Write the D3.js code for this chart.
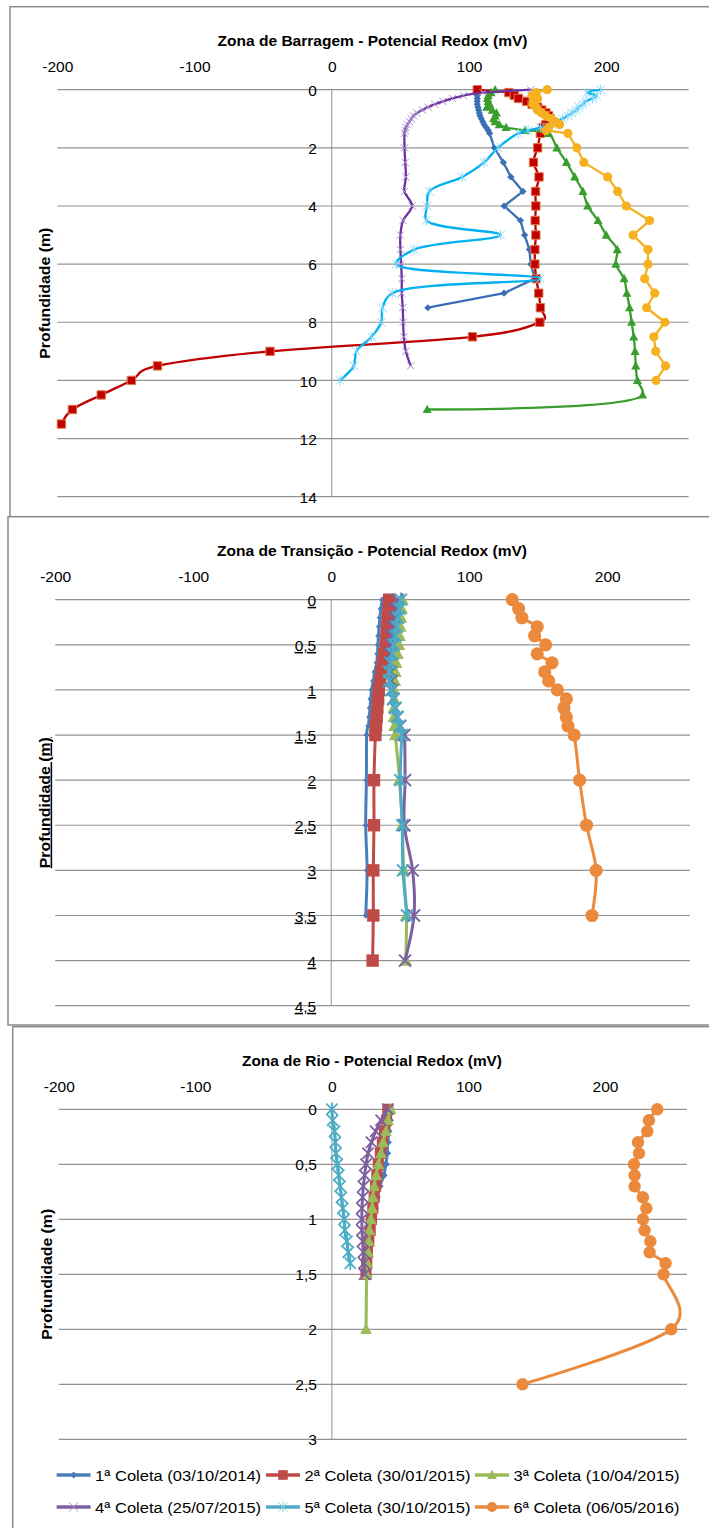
<!DOCTYPE html>
<html><head><meta charset="utf-8">
<script src="https://cdn.jsdelivr.net/npm/d3@7"></script>
<style>
html,body{margin:0;padding:0;background:#fff;}
svg{display:block;}
text{font-family:"Liberation Sans",Arial,sans-serif;fill:#000;}
</style></head><body>
<svg id="chart" width="709" height="1528"></svg>
<script>
// ---- data: [depth (m), redox potential (mV)] ----
const seriesNames = ["1ª Coleta (03/10/2014)","2ª Coleta (30/01/2015)","3ª Coleta (10/04/2015)",
                     "4ª Coleta (25/07/2015)","5ª Coleta (30/10/2015)","6ª Coleta (06/05/2016)"];
const redoxTicks = [-200,-100,0,100,200];
const barragemDepthTicks = [0,2,4,6,8,10,12,14];
const transicaoDepthTicks = [0,0.5,1,1.5,2,2.5,3,3.5,4,4.5];
const rioDepthTicks = [0,0.5,1,1.5,2,2.5,3];

// Zona de Barragem
const barragem1 = [[0,106],[0.1,106],[0.2,106],[0.3,106],[0.4,106],[0.5,106],[0.6,106.5],[0.7,107],[0.8,107.5],[0.9,108],[1.0,109],[1.1,110],[1.2,111],[1.3,112.5],[1.4,114],[1.5,115],[2,118.5],[2.5,125],[3,130.5],[3.5,139.3],[4,125.5],[4.5,137.5],[5,140.5],[5.5,144],[6,145],[6.5,148],[7,125.5],[7.5,70]];
const barragem2 = [[0,106],[0.1,129],[0.2,133],[0.3,136],[0.4,142],[0.5,146],[0.6,150],[0.7,153],[0.8,156],[0.9,158],[1.0,159],[1.1,158],[1.2,156],[1.3,154],[1.5,152],[2,150],[2.5,147],[3,151],[3.5,148.5],[4,148.7],[4.5,148.2],[5,148.7],[5.5,148],[6,148],[6.5,149],[7,150.8],[7.5,152],[8,151.6],[8.5,102.5],[9,-45],[9.5,-127],[10,-146],[10.5,-168],[11,-189],[11.5,-197]];
const barragem3 = [[0,119],[0.1,116],[0.2,114],[0.3,113.5],[0.4,114],[0.5,115],[0.6,113],[0.7,117],[0.8,120],[0.9,119],[1.0,118],[1.1,119],[1.2,122],[1.3,127],[1.4,141],[1.5,158],[2,164],[2.5,171],[3,177],[3.5,183],[4,186.5],[4.5,194],[5,200],[5.5,208],[6,207],[6.5,213],[7,215],[7.5,217],[8,218.5],[8.5,220],[9,221],[9.5,221.5],[10,222.7],[10.5,226.5],[11,69.5]];
const barragem4 = [[0,145],[0.1,110],[0.2,96],[0.3,88],[0.4,81],[0.5,75],[0.6,70],[0.7,66],[0.8,62],[0.9,59.5],[1.0,58],[1.1,56.5],[1.2,55],[1.3,54],[1.4,53.5],[1.5,53],[2,53],[2.5,53.5],[3,54],[3.5,53],[4,58.5],[4.5,52],[5,50],[5.5,50],[6,50.5],[6.5,51],[7,51],[7.5,51.7],[8,52],[8.5,52.5],[9,54],[9.5,57.5]];
const barragem5 = [[0,196],[0.1,186],[0.2,193],[0.3,190],[0.4,185],[0.5,183],[0.6,180],[0.7,178],[0.8,175],[0.9,172],[1.0,168],[1.1,164],[1.2,160],[1.3,152],[1.4,143],[1.5,136],[2,121],[2.5,111],[3,95],[3.5,71],[4,69.5],[4.5,69],[5,123],[5.5,60],[6,47],[6.5,152],[7,44],[7.5,37],[8,36],[8.5,29],[9,18],[9.5,16],[10,6]];
const barragem6 = [[0,157],[0.1,149],[0.2,146],[0.3,150],[0.4,147],[0.5,146.5],[0.6,149],[0.7,150],[0.8,153],[0.9,156],[1.0,160],[1.1,163],[1.2,166],[1.3,158],[1.4,156],[1.5,172],[2,178.5],[2.5,183.7],[3,201],[3.5,208.3],[4,214.6],[4.5,231.6],[5,219.5],[5.5,230.4],[6,230.4],[6.5,228],[7,235.3],[7.5,229.4],[8,242.7],[8.5,234.7],[9,236],[9.5,243.2],[10,236.3]];

// Zona de Transição
const transicao1 = [[0,37],[0.1,36],[0.2,35.3],[0.3,34.7],[0.4,34.2],[0.5,33.9],[0.6,33.5],[0.7,33],[0.8,31.5],[0.9,30.5],[1.0,29.3],[1.1,28.6],[1.2,28.1],[1.3,27.6],[1.4,26.9],[1.5,25.7],[2,25.5],[2.5,25],[3,26],[3.5,25]];
const transicao2 = [[0,42],[0.1,41.5],[0.2,41],[0.3,40.5],[0.4,40],[0.5,39.5],[0.6,38.5],[0.7,37.5],[0.8,36.5],[0.9,35.5],[1.0,34.5],[1.1,34],[1.2,33.5],[1.3,33],[1.4,32.5],[1.5,32],[2,31],[2.5,31],[3,30.5],[3.5,30.5],[4,30]];
const transicao3 = [[0,51.5],[0.1,51],[0.2,50.5],[0.3,50],[0.4,49.5],[0.5,49],[0.6,48],[0.7,47],[0.8,46.5],[0.9,46],[1.0,45.5],[1.1,45.5],[1.2,45.5],[1.3,45.5],[1.4,46],[1.5,46.5],[2,49.5],[2.5,51.5],[3,52.5],[3.5,54.5],[4,54]];
const transicao4 = [[0,48],[0.1,47],[0.2,46],[0.3,45],[0.4,44],[0.5,43.5],[0.6,43],[0.7,43],[0.8,43],[0.9,43.5],[1.0,44],[1.1,45],[1.2,46.5],[1.3,48],[1.4,50],[1.5,53],[2,53.5],[2.5,53],[3,59],[3.5,60],[4,53.5]];
const transicao5 = [[0,50.5],[0.1,49.5],[0.2,48.5],[0.3,47.5],[0.4,46.5],[0.5,45.5],[0.6,44.5],[0.7,43],[0.8,42],[0.9,42],[1.0,43.5],[1.1,45],[1.2,46.5],[1.3,48],[1.4,49.5],[1.5,51],[2,50],[2.5,51.5],[3,52],[3.5,55]];
const transicao6 = [[0,131.2],[0.1,135.8],[0.2,138.2],[0.3,149.3],[0.4,147.4],[0.5,155.4],[0.6,149.3],[0.7,160],[0.8,154.7],[0.9,157.6],[1.0,163.9],[1.1,170.4],[1.2,168.7],[1.3,170.4],[1.4,171.6],[1.5,176],[2,180],[2.5,185],[3,192],[3.5,189]];

// Zona de Rio
const rio1 = [[0,43],[0.1,42.5],[0.2,41.5],[0.3,41],[0.4,40.5],[0.5,39.5],[0.6,38],[0.7,35],[0.8,33],[0.9,31.5],[1.0,30],[1.1,29],[1.2,28],[1.3,27],[1.4,26.5],[1.5,26]];
const rio2 = [[0,41],[0.1,40],[0.2,38.5],[0.3,37],[0.4,35.5],[0.5,34],[0.6,33],[0.7,32],[0.8,31],[0.9,30],[1.0,29],[1.1,28],[1.2,27],[1.3,26],[1.4,25.5],[1.5,25]];
const rio3 = [[0,43],[0.1,41],[0.2,39.5],[0.3,37.5],[0.4,36],[0.5,34],[0.6,32.5],[0.7,31],[0.8,30],[0.9,29.5],[1.0,28.5],[1.1,27.5],[1.2,27],[1.3,26.5],[1.4,26],[1.5,25.5],[2,25]];
const rio4 = [[0,41],[0.1,36],[0.2,32],[0.3,29],[0.4,26.5],[0.5,25],[0.6,24],[0.7,23],[0.8,22.5],[0.9,22],[1.0,22],[1.1,22],[1.2,22.5],[1.3,23],[1.4,23.5],[1.5,24]];
const rio5 = [[0,0],[0.1,0.5],[0.2,2],[0.3,2.5],[0.4,3],[0.5,4],[0.6,5],[0.7,6],[0.8,7],[0.9,8],[1.0,9],[1.1,9.5],[1.2,11],[1.3,12],[1.4,13.5]];
const rio6 = [[0,238.3],[0.1,232.2],[0.2,231],[0.3,224.2],[0.4,224.9],[0.5,221.2],[0.6,221.7],[0.7,221.7],[0.8,227.8],[0.9,230.3],[1.0,227.8],[1.1,229],[1.2,233.2],[1.3,232.7],[1.4,244.4],[1.5,242.9],[2,248.5],[2.5,139.6]];

// ---- styles ----
const smooth = d3.curveCatmullRom.alpha(0);
const softSmooth = d3.curveCatmullRom.alpha(0.5);
const straight = d3.curveLinear;
const officeColors = ["#4A7EBB","#BE4B48","#9BBB59","#7D60A0","#4BACC6","#EB8A3C"];
const markerTypes = ["diamond","square","triangle","x","star","circle"];

const barragemStyle = [
  {color:"#3A6FB5", r:3.6, curve:straight},
  {color:"#C00000", r:4.2, curve:smooth, outline:"#E07A4A"},
  {color:"#3A9E2E", r:4.8, curve:softSmooth},
  {color:"#7030A0", r:3.6, curve:smooth, mark:"#A68BCB", mw:1},
  {color:"#00B0F0", r:4.2, curve:softSmooth, mark:"#86D6F5", mw:1},
  {color:"#F5B120", r:4.6, curve:straight}
];
const transicaoStyle = [
  {color:officeColors[0], r:3.2, curve:smooth},
  {color:officeColors[1], r:6.2, curve:smooth},
  {color:officeColors[2], r:6.8, curve:smooth},
  {color:officeColors[3], r:6, curve:smooth, mw:2},
  {color:officeColors[4], r:6, curve:smooth, mw:2},
  {color:officeColors[5], r:6.6, curve:smooth}
];
const rioStyle = [
  {color:officeColors[0], r:4, curve:smooth},
  {color:officeColors[1], r:5.6, curve:smooth},
  {color:officeColors[2], r:6.2, curve:smooth},
  {color:officeColors[3], r:5.6, curve:smooth, mw:1.8},
  {color:officeColors[4], r:5.6, curve:smooth, mw:1.8},
  {color:officeColors[5], r:6.2, curve:smooth}
];

const ptLocale = d3.formatLocale({decimal:",", thousands:".", grouping:[3], currency:["R$",""], minus:"-"});
const fmtDepth = ptLocale.format("~g");
const fmtRedox = ptLocale.format("d");

function markerPath(type, r){
  switch(type){
    case "diamond": return `M0,${-r}L${r},0L0,${r}L${-r},0Z`;
    case "square": return `M${-r},${-r}h${2*r}v${2*r}h${-2*r}Z`;
    case "triangle": return `M0,${-r}L${r*0.95},${r*0.75}L${-r*0.95},${r*0.75}Z`;
    case "x": return `M${-r},${-r}L${r},${r}M${-r},${r}L${r},${-r}`;
    case "star": return `M${-r},${-r}L${r},${r}M${-r},${r}L${r},${-r}M0,${-r*1.2}L0,${r*1.2}`;
    case "circle": return d3.symbol(d3.symbolCircle, Math.PI*r*r)();
  }
}
function drawMarker(sel, type, st){
  const open = (type==="x" || type==="star");
  sel.append("path").attr("d", markerPath(type, st.r))
    .attr("fill", open ? "none" : st.color)
    .attr("stroke", open ? (st.mark || st.color) : (st.outline || "none"))
    .attr("stroke-width", open ? (st.mw || 1) : (st.outline ? 1 : 0));
}

const svg = d3.select("#chart");

function drawPanel(p){
  const g = svg.append("g");
  g.append("rect").attr("x", p.frame[0]).attr("y", p.frame[1])
    .attr("width", p.frame[2]).attr("height", p.frame[3])
    .attr("fill", "#fff").attr("stroke", "#8A8A8A").attr("stroke-width", 1.5);

  const x = d3.scaleLinear().domain([-200, 260]).range([p.left, p.right]);
  const y = d3.scaleLinear().domain(p.depthDomain).range([p.top, p.bottom]);

  // gridlines
  g.append("g").selectAll("line").data(p.depthTicks).join("line")
    .attr("x1", p.left).attr("x2", p.right)
    .attr("y1", d => y(d)).attr("y2", d => y(d))
    .attr("stroke", "#939393").attr("stroke-width", 1.2);
  // vertical axis at 0 mV
  g.append("line").attr("x1", x(0)).attr("x2", x(0)).attr("y1", p.top).attr("y2", p.bottom)
    .attr("stroke", "#939393").attr("stroke-width", 1);

  // redox axis labels
  const ax = g.append("g").attr("transform", `translate(0,${p.xLabelY})`)
    .call(d3.axisTop(x).tickValues(redoxTicks).tickFormat(fmtRedox).tickSize(0).tickPadding(0));
  ax.select(".domain").remove();
  ax.selectAll("text").attr("y", 0).attr("dy", "0.36em")
    .attr("font-family", "Liberation Sans, Arial, sans-serif").attr("font-size", 15.5).attr("fill", "#000");

  // depth axis labels
  const ay = g.append("g").attr("transform", `translate(${x(0)},0)`)
    .call(d3.axisLeft(y).tickValues(p.depthTicks).tickFormat(fmtDepth).tickSize(0).tickPadding(15));
  ay.select(".domain").remove();
  ay.selectAll("text").attr("dy", "0.36em")
    .attr("font-family", "Liberation Sans, Arial, sans-serif").attr("font-size", 15.5).attr("fill", "#000")
    .style("text-decoration", p.underline ? "underline" : null);

  // title
  g.append("text").attr("x", p.titleX).attr("y", p.titleY).attr("dy", "0.36em")
    .attr("text-anchor", "middle").attr("font-weight", "bold").attr("font-size", 15.5)
    .attr("textLength", p.titleWidth).attr("lengthAdjust", "spacingAndGlyphs")
    .text(p.title);
  // depth axis title
  g.append("text").attr("transform", `translate(${p.yTitleX},${(p.top+p.bottom)/2}) rotate(-90)`)
    .attr("dy", "0.36em").attr("text-anchor", "middle").attr("font-weight", "bold").attr("font-size", 15.5)
    .attr("textLength", 131).attr("lengthAdjust", "spacingAndGlyphs")
    .style("text-decoration", p.underline ? "underline" : null)
    .text("Profundidade (m)");

  // series
  p.series.forEach((data, i) => {
    const st = p.styles[i];
    const line = d3.line().x(d => x(d[1])).y(d => y(d[0])).curve(st.curve);
    g.append("path").datum(data).attr("d", line).attr("fill", "none")
      .attr("stroke", st.color).attr("stroke-width", p.lineWidth).attr("stroke-linejoin", "round");
    const mk = g.append("g");
    data.forEach(d => {
      const m = mk.append("g").attr("transform", `translate(${x(d[1])},${y(d[0])})`);
      drawMarker(m, markerTypes[i], st);
    });
  });
}

drawPanel({
  frame:[10, 6.7, 720, 520], left:57.3, right:688.6, top:89.7, bottom:496.7,
  depthDomain:[0,14], depthTicks:barragemDepthTicks, xLabelY:66.7,
  title:"Zona de Barragem - Potencial Redox (mV)", titleX:372.5, titleY:40.7, titleWidth:310,
  yTitleX:44, underline:false, lineWidth:2.3,
  series:[barragem1,barragem2,barragem3,barragem4,barragem5,barragem6], styles:barragemStyle
});
drawPanel({
  frame:[8, 516.7, 720, 508.3], left:55.2, right:690, top:599.7, bottom:1005.7,
  depthDomain:[0,4.5], depthTicks:transicaoDepthTicks, xLabelY:576.7,
  title:"Zona de Transição - Potencial Redox (mV)", titleX:372, titleY:550.7, titleWidth:310,
  yTitleX:44, underline:true, lineWidth:3,
  series:[transicao1,transicao2,transicao3,transicao4,transicao5,transicao6], styles:transicaoStyle
});
drawPanel({
  frame:[12.7, 1026.7, 720, 530], left:58.8, right:686.9, top:1109.3, bottom:1439.3,
  depthDomain:[0,3], depthTicks:rioDepthTicks, xLabelY:1086,
  title:"Zona de Rio - Potencial Redox (mV)", titleX:372, titleY:1060, titleWidth:260,
  yTitleX:46.6, underline:false, lineWidth:3,
  series:[rio1,rio2,rio3,rio4,rio5,rio6], styles:rioStyle
});

// legend
const legendCols = [56.6, 266, 475];
const legendRows = [1475, 1507];
const lg = svg.append("g");
seriesNames.forEach((name, i) => {
  const lx = legendCols[i % 3], ly = legendRows[Math.floor(i / 3)];
  const st = {color:officeColors[i], r:[3.5,4.8,5.2,4.6,4.6,5][i],
              mark:[null,null,null,"#A592C2","#8CCFE0",null][i], mw:1};
  lg.append("line").attr("x1", lx).attr("x2", lx + 34).attr("y1", ly).attr("y2", ly)
    .attr("stroke", officeColors[i]).attr("stroke-width", 3.5);
  drawMarker(lg.append("g").attr("transform", `translate(${lx + 17},${ly})`), markerTypes[i], st);
  lg.append("text").attr("x", lx + 38.5).attr("y", ly).attr("dy", "0.36em")
    .attr("font-size", 15.5).attr("textLength", 166).attr("lengthAdjust", "spacingAndGlyphs")
    .text(name);
});
</script>
</body></html>
